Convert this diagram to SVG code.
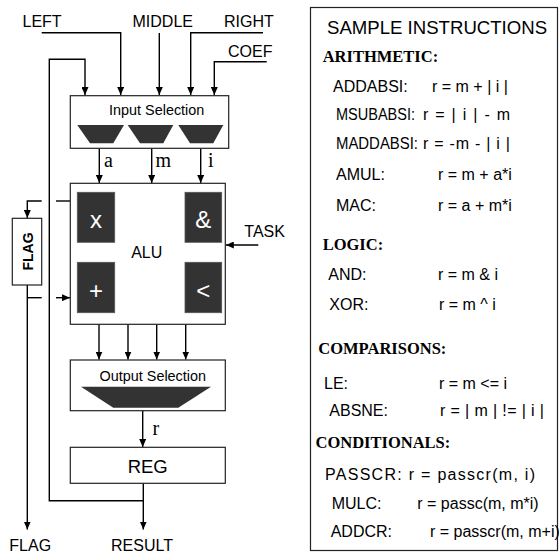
<svg xmlns="http://www.w3.org/2000/svg" width="559" height="555" viewBox="0 0 559 555">
<style>
.ln{fill:none;stroke:#000;stroke-width:1.4}
.box{fill:#fff;stroke:#222;stroke-width:1.2}
.dk{fill:#333;stroke:#555;stroke-width:0.8}
.lbl{font-family:"Liberation Sans",Arial,sans-serif;font-size:16px;fill:#000}
.sm{font-family:"Liberation Sans",Arial,sans-serif;font-size:14.4px;fill:#000}
.ser{font-family:"Liberation Serif","Times New Roman",serif;font-size:20px;fill:#000}
.op{font-family:"Liberation Sans",Arial,sans-serif;font-size:24px;fill:#fff;text-anchor:middle}
.hd{font-family:"Liberation Serif","Times New Roman",serif;font-size:16.5px;font-weight:bold;fill:#000}
.row{font-family:"Liberation Sans",Arial,sans-serif;font-size:16px;fill:#000}
</style>
<defs>
<marker id="ar" markerUnits="userSpaceOnUse" markerWidth="8" markerHeight="7" refX="8" refY="3.5" orient="auto">
<path d="M0,0 L8,3.5 L0,7 z" fill="#000"/>
</marker>
</defs>
<rect width="559" height="555" fill="#fff"/>

<g id="connectors">
<path class="ln" d="M41.7,32.7 H120.7 V95" marker-end="url(#ar)"/>
<path class="ln" d="M159.3,33 V95" marker-end="url(#ar)"/>
<path class="ln" d="M263,32.7 H190.7 V95" marker-end="url(#ar)"/>
<path class="ln" d="M266.7,61.7 H214.3 V95" marker-end="url(#ar)"/>
<path class="ln" d="M143.3,500.7 H49.3 V59.3 H85 V95" marker-end="url(#ar)"/>
<path class="ln" d="M143.3,483.3 V529.5" marker-end="url(#ar)"/>
<path class="ln" d="M99.3,148.3 V183" marker-end="url(#ar)"/>
<path class="ln" d="M151.7,148.3 V183" marker-end="url(#ar)"/>
<path class="ln" d="M200.7,148.3 V183" marker-end="url(#ar)"/>
<path class="ln" d="M99,324.3 V359.5" marker-end="url(#ar)"/>
<path class="ln" d="M128,324.3 V359.5" marker-end="url(#ar)"/>
<path class="ln" d="M156.7,324.3 V359.5" marker-end="url(#ar)"/>
<path class="ln" d="M185.7,324.3 V359.5" marker-end="url(#ar)"/>
<path class="ln" d="M142.7,410.7 V447" marker-end="url(#ar)"/>
<path class="ln" d="M258.3,245 H225.8" marker-end="url(#ar)"/>
<path class="ln" d="M70.3,201 H56"/>
<path class="ln" d="M41.7,201 H27.3 V218" marker-end="url(#ar)"/>
<path class="ln" d="M27.3,285 V529.5" marker-end="url(#ar)"/>
<path class="ln" d="M27.3,297.7 H41.7"/>
<path class="ln" d="M56,297.7 H70" marker-end="url(#ar)"/>
<text class="ser" x="104" y="166.7">a</text>
<text class="ser" x="155.5" y="166.7">m</text>
<text class="ser" x="208" y="166.7">i</text>
<text class="ser" x="152.5" y="435">r</text>
</g>

<g id="labels">
<text class="lbl" x="22.5" y="26.7">LEFT</text>
<text class="lbl" x="132.5" y="26.7">MIDDLE</text>
<text class="lbl" x="224" y="26.7">RIGHT</text>
<text class="lbl" x="228" y="57.3">COEF</text>
<text class="lbl" x="244.3" y="236.7">TASK</text>
<text class="lbl" x="9.3" y="550.7">FLAG</text>
<text class="lbl" x="111" y="550.7">RESULT</text>
</g>

<g id="input-selection">
<rect class="box" x="70.3" y="95.7" width="158.4" height="52.6"/>
<text class="sm" x="156.7" y="115" text-anchor="middle">Input Selection</text>
<polygon fill="#333" points="77.3,125 124,125 113.3,143.3 90,143.3"/>
<polygon fill="#333" points="127.7,125 173.3,125 163.3,143.3 140,143.3"/>
<polygon fill="#333" points="178.3,125 223.3,125 213.3,143.3 190,143.3"/>
</g>

<g id="alu">
<rect class="box" x="70.3" y="183.3" width="155" height="141"/>
<rect class="dk" x="77.3" y="192.3" width="37.4" height="50"/>
<rect class="dk" x="185" y="192.3" width="36.7" height="50"/>
<rect class="dk" x="77.3" y="262.3" width="37.4" height="50.4"/>
<rect class="dk" x="185" y="262.3" width="36.7" height="50.4"/>
<text class="op" x="96" y="227.5">x</text>
<text class="op" x="203.3" y="227.7">&amp;</text>
<text class="op" x="96" y="298.5">+</text>
<text class="op" x="203.3" y="298.5">&lt;</text>
<text class="lbl" x="146.7" y="258.3" text-anchor="middle">ALU</text>
</g>

<g id="flag">
<rect class="box" x="12.3" y="218.3" width="29.4" height="66.7"/>
<text x="0" y="0" transform="translate(32.5,251.5) rotate(-90)" text-anchor="middle" style="font-family:'Liberation Sans',Arial,sans-serif;font-size:14px;font-weight:bold">FLAG</text>
</g>

<g id="output-selection">
<rect class="box" x="70.3" y="360" width="155" height="50.7"/>
<text class="sm" x="152.8" y="380.7" text-anchor="middle">Output Selection</text>
<polygon fill="#333" points="81,386.7 211,386.7 178.3,407.7 113.3,407.7"/>
</g>

<g id="reg">
<rect class="box" x="70.3" y="447.3" width="155" height="36"/>
<text class="lbl" x="147.7" y="473.3" text-anchor="middle" style="font-size:18.5px">REG</text>
</g>

<g id="instructions">
<rect x="310.5" y="7.5" width="247" height="543" fill="none" stroke="#222" stroke-width="1.2"/>
<text class="lbl" x="327" y="33.5" style="font-size:18.6px">SAMPLE INSTRUCTIONS</text>
<text class="hd" x="322.7" y="62">ARITHMETIC:</text>
<text class="row" x="333" y="92">ADDABSI:</text><text class="row" x="432" y="92">r =  m + | i |</text>
<text class="row" x="336" y="120" textLength="79" lengthAdjust="spacingAndGlyphs">MSUBABSI:</text><text class="row" x="423" y="120" textLength="87" lengthAdjust="spacing">r = | i | - m</text>
<text class="row" x="336" y="149" textLength="82" lengthAdjust="spacingAndGlyphs">MADDABSI:</text><text class="row" x="423" y="149" textLength="87" lengthAdjust="spacing">r = -m - | i |</text>
<text class="row" x="336" y="180">AMUL:</text><text class="row" x="438" y="180">r = m + a*i</text>
<text class="row" x="336" y="211">MAC:</text><text class="row" x="438" y="211">r = a + m*i</text>
<text class="hd" x="322.7" y="250">LOGIC:</text>
<text class="row" x="328.3" y="280">AND:</text><text class="row" x="438" y="280">r = m &amp; i</text>
<text class="row" x="329.3" y="310">XOR:</text><text class="row" x="439" y="310">r = m ^ i</text>
<text class="hd" x="318.3" y="354">COMPARISONS:</text>
<text class="row" x="324" y="389">LE:</text><text class="row" x="439" y="389">r = m &lt;= i</text>
<text class="row" x="329.3" y="416">ABSNE:</text><text class="row" x="440" y="416" textLength="104" lengthAdjust="spacing">r = | m | != | i |</text>
<text class="hd" x="315.5" y="448">CONDITIONALS:</text>
<text class="row" x="325" y="480" textLength="210" lengthAdjust="spacing">PASSCR: r = passcr(m, i)</text>
<text class="row" x="331.7" y="509">MULC:</text><text class="row" x="417.3" y="509">r = passc(m, m*i)</text>
<text class="row" x="330.7" y="537">ADDCR:</text><text class="row" x="430" y="537">r = passcr(m, m+i)</text>
</g>
</svg>
